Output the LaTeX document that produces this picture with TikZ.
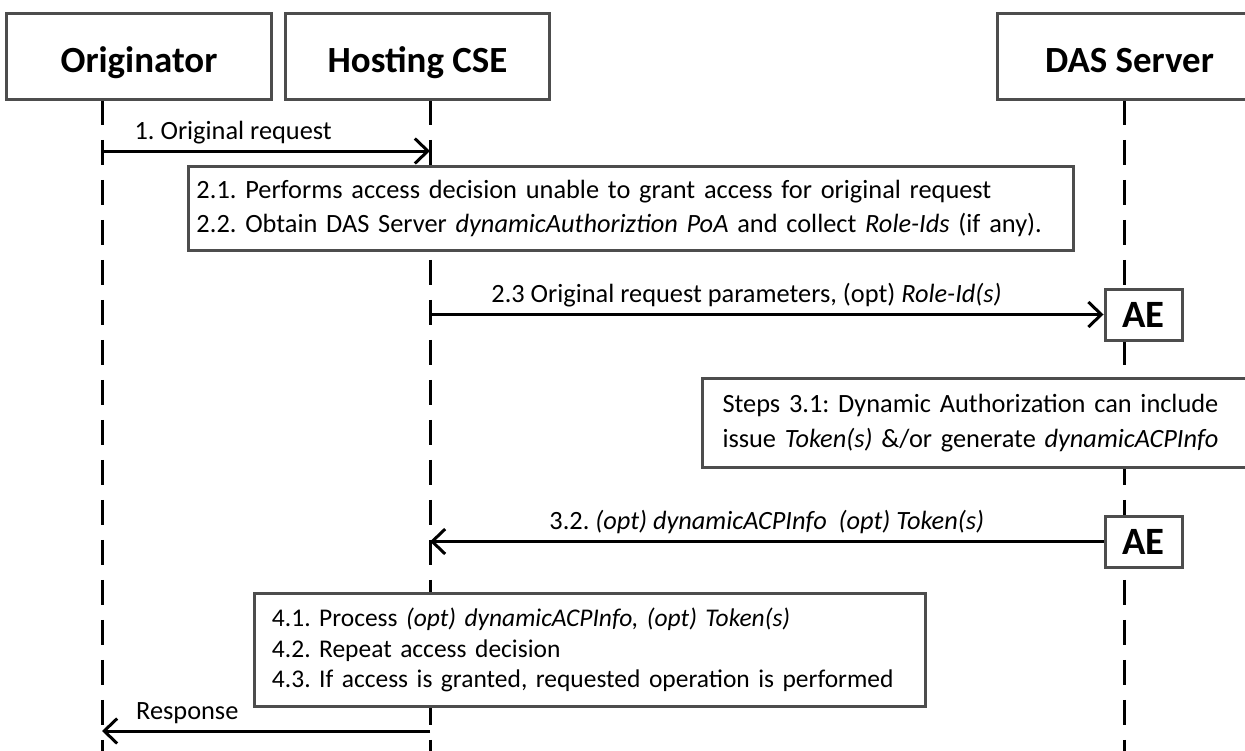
\documentclass[tikz,border=0pt]{standalone}
\usepackage{fontspec}
\setmainfont{Carlito}
\usepackage{tikz}
\usetikzlibrary{arrows.meta,positioning,backgrounds}
\definecolor{boxgray}{RGB}{77,77,77}
\tikzset{
  actor/.style={ draw=boxgray, line width=0.06cm, fill=white, minimum width=5.3cm, minimum height=1.74cm, text height=18.6pt, text depth=0pt, font=\bfseries\fontsize{21}{24}\selectfont }
}
\tikzset{
  aebox/.style={ draw=boxgray, line width=0.06cm, fill=white, minimum width=1.54cm, minimum height=1.02cm, inner sep=0pt, font=\bfseries\fontsize{22}{24}\selectfont }
}
\tikzset{
  note/.style={ draw=boxgray, line width=0.06cm, fill=white, anchor=north west, align=left, font=\fontsize{15}{19.5}\selectfont }
}
\tikzset{
  life/.style={ line width=0.06cm, dash pattern=on 0.5cm off 0.3cm }
}
\tikzset{
  msg/.style={ line width=0.06cm, -{Straight Barb[length=0.26cm, width=0.5cm]} }
}
\tikzset{
  msglabel/.style={ above=0pt, font=\fontsize{15}{18}\selectfont }
}

\begin{document}
\frenchspacing
\begin{tikzpicture}[x=0.02cm, y=-0.02cm]
      \useasboundingbox (0,0) rectangle (1245,751);
      \node[actor] (orig) at (139,56.5) {Originator};
      \node[actor] (host) at (417.5,56.5) {Hosting CSE};
      \node[actor, overlay] (das) at (1129.5,56.5) {DAS Server};
      \coordinate (otop) at (102,100);
      \coordinate (obot) at (102,751);
      \coordinate (htop) at (430,100);
      \coordinate (hbot) at (430,751);
      \coordinate (dtop) at (1124,100);
      \coordinate (dbot) at (1124,751);
      \begin{scope}[on background layer]
        \draw[life] (otop) -- (obot);
        \draw[life] (htop) -- (hbot);
        \draw[life] (dtop) -- (dbot);
      \end{scope}
      \coordinate (m1a) at (102,151);
      \coordinate (m1b) at (430,151);
      \draw[msg] (m1a) -- node[msglabel, pos=0.4] {1. Original request} (m1b);
      \node[note, minimum width=17.7cm, minimum height=1.68cm, inner xsep=0.16cm, text width=17.38cm] (n21) at (187,165)
        {2.1. Performs access decision unable to grant access for original request\\
         2.2. Obtain DAS Server \textit{dynamicAuthoriztion PoA} and collect \textit{Role-Ids} (if any).};
      \node[aebox] (ae1) at (1143.5,314.5) {AE};
      \coordinate (m23a) at (430,314.5);
      \draw[msg] (m23a) -- node[msglabel, pos=0.47] {2.3 Original request parameters, (opt) \textit{Role-Id(s)}} (ae1.west);
      \node[note, overlay, minimum width=11.22cm, minimum height=1.78cm, inner xsep=0.4cm, text width=10.42cm] (n31) at (701,377)
        {Steps 3.1: Dynamic Authorization can include\\
         issue \textit{Token(s)} \&/or generate \textit{dynamicACPInfo}};
      \node[aebox] (ae2) at (1143.5,541.5) {AE};
      \coordinate (m32b) at (430,541.5);
      \draw[msg] (ae2.west) -- node[msglabel, pos=0.5] {3.2. \textit{(opt) dynamicACPInfo~~(opt) Token(s)}} (m32b);
      \node[note, minimum width=13.42cm, minimum height=2.26cm, inner xsep=0.35cm, text width=12.72cm,
            font=\fontsize{14.5}{17.5}\selectfont] (n4) at (253,592)
        {4.1. Process \textit{(opt) dynamicACPInfo, (opt) Token(s)}\\
         4.2. Repeat access decision\\
         4.3. If access is granted, requested operation is performed};
      \coordinate (ra) at (430,731);
      \coordinate (rb) at (102,731);
      \draw[msg] (ra) -- node[msglabel, pos=0.74] {Response} (rb);
    \end{tikzpicture}
\end{document}
